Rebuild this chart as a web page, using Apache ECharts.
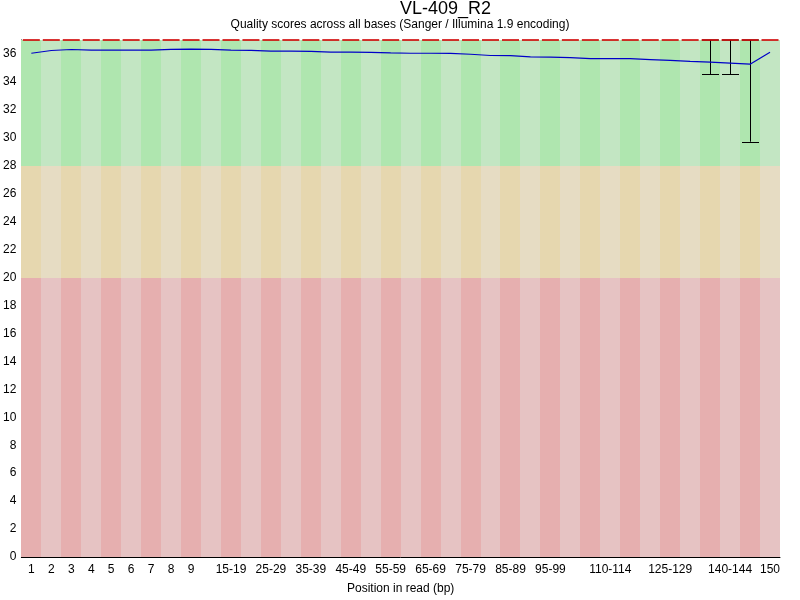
<!DOCTYPE html>
<html>
<head>
<meta charset="utf-8">
<title>VL-409_R2</title>
<script src="https://cdn.jsdelivr.net/npm/echarts@6/dist/echarts.min.js"></script>
<style>
  html, body { margin: 0; padding: 0; background: #fff; }
  #chart { width: 800px; height: 600px; }
</style>
</head>
<body>
<div id="chart"></div>
<script>
// read positions (FastQC grouping)
const categories = ['1', '2', '3', '4', '5', '6', '7', '8', '9',
    '10-14', '15-19', '20-24', '25-29', '30-34', '35-39', '40-44', '45-49',
    '50-54', '55-59', '60-64', '65-69', '70-74', '75-79', '80-84', '85-89',
    '90-94', '95-99', '100-104', '105-109', '110-114', '115-119', '120-124',
    '125-129', '130-134', '135-139', '140-144', '145-149', '150'];

// only these get a tick label
const shownLabels = ['1', '2', '3', '4', '5', '6', '7', '8', '9',
    '15-19', '25-29', '35-39', '45-49', '55-59', '65-69', '75-79', '85-89',
    '95-99', '110-114', '125-129', '140-144', '150'];

// mean quality
const meanQ = [36.05, 36.25, 36.32, 36.28, 36.27, 36.27, 36.28, 36.33, 36.34,
    36.33, 36.27, 36.26, 36.20, 36.20, 36.19, 36.13, 36.13, 36.12, 36.08,
    36.05, 36.05, 36.04, 35.98, 35.89, 35.88, 35.79, 35.78, 35.74, 35.67,
    35.67, 35.66, 35.60, 35.54, 35.47, 35.41, 35.34, 35.27, 36.12];

// median quality
const medianQ = [37, 37, 37, 37, 37, 37, 37, 37, 37, 37, 37, 37, 37, 37, 37,
    37, 37, 37, 37, 37, 37, 37, 37, 37, 37, 37, 37, 37, 37, 37, 37, 37, 37,
    37, 37, 37, 37, 37];

// 10th / 90th percentile whiskers
const lowerQ = [37, 37, 37, 37, 37, 37, 37, 37, 37, 37, 37, 37, 37, 37, 37,
    37, 37, 37, 37, 37, 37, 37, 37, 37, 37, 37, 37, 37, 37, 37, 37, 37, 37,
    37, 34.56, 34.56, 29.72, 37];
const upperQ = [37, 37, 37, 37, 37, 37, 37, 37, 37, 37, 37, 37, 37, 37, 37,
    37, 37, 37, 37, 37, 37, 37, 37, 37, 37, 37, 37, 37, 37, 37, 37, 37, 37,
    37, 37, 37, 37, 37];

// quality zones: bad < 20 <= medium < 28 <= good
const zoneBounds = [0, 20, 28, 37];
const yTicks = [0, 2, 4, 6, 8, 10, 12, 14, 16, 18, 20, 22, 24, 26, 28, 30, 32, 34, 36];

const zoneColors = [
    ['#e6afaf', '#e6c3c3'],
    ['#e6d7af', '#e6dcc3'],
    ['#afe6af', '#c3e6c3']
];

const font = 'Liberation Sans, Arial, sans-serif';
const chart = echarts.init(document.getElementById('chart'));

// one cell per category and zone
const zoneData = [];
categories.forEach((c, i) => {
    for (let z = 0; z < 3; z++) zoneData.push([i, zoneBounds[z], zoneBounds[z + 1], z]);
});

const option = {
    animation: false,
    backgroundColor: '#fff',
    title: [{
        text: 'VL-409_R2',
        left: 400,
        top: 0,
        padding: 0,
        textStyle: {fontFamily: font, fontSize: 18, fontWeight: 'normal', color: '#000'}
    }, {
        text: 'Quality scores across all bases (Sanger / Illumina 1.9 encoding)',
        left: 'center',
        top: 19,
        padding: 0,
        textStyle: {fontFamily: font, fontSize: 12, fontWeight: 'normal', color: '#000'}
    }],
    grid: {left: 20, right: 20, top: 40, bottom: 40, containLabel: false},
    xAxis: {
        type: 'category',
        data: categories,
        boundaryGap: true,
        name: 'Position in read (bp)',
        nameLocation: 'middle',
        nameGap: 26,
        nameTextStyle: {fontFamily: font, fontSize: 12, color: '#000'},
        axisLine: {show: true, lineStyle: {color: '#000', width: 1}},
        axisTick: {show: false},
        splitLine: {show: false},
        axisLabel: {
            interval: (i, v) => shownLabels.includes(v),
            margin: 7,
            fontFamily: font,
            fontSize: 12,
            color: '#000'
        }
    },
    yAxis: {
        type: 'value',
        min: zoneBounds[0],
        max: zoneBounds[3],
        interval: 2,
        axisLine: {show: true, lineStyle: {color: '#000', width: 1}},
        axisTick: {show: false},
        splitLine: {show: false},
        axisLabel: {
            showMaxLabel: false,
            margin: 5,
            padding: [7, 0, 0, 0],
            fontFamily: font,
            fontSize: 12,
            color: '#000',
            formatter: v => yTicks.includes(v) ? String(v) : ''
        }
    },
    series: [
        {
            type: 'custom',
            z: 1,
            silent: true,
            data: zoneData,
            encode: {x: 0, y: [1, 2]},
            renderItem: (params, api) => {
                const i = api.value(0);
                const w = api.size([1, 0])[0];
                const top = api.coord([i, api.value(2)]);
                const bot = api.coord([i, api.value(1)]);
                const x0 = Math.round(top[0] - w / 2);
                const x1 = Math.round(top[0] + w / 2);
                const y0 = Math.round(top[1]);
                const y1 = Math.round(bot[1]);
                return {
                    type: 'rect',
                    shape: {x: x0, y: y0, width: x1 - x0, height: y1 - y0},
                    style: {fill: zoneColors[api.value(3)][i % 2]}
                };
            }
        },
        {
            type: 'custom',
            z: 3,
            silent: true,
            data: categories.map((c, i) => [i, lowerQ[i], upperQ[i]]),
            encode: {x: 0, y: [1, 2]},
            renderItem: (params, api) => {
                const lo = api.value(1), hi = api.value(2);
                if (lo >= hi) return null;
                const top = api.coord([api.value(0), hi]);
                const bot = api.coord([api.value(0), lo]);
                const half = 8.5;
                const st = {stroke: '#000', lineWidth: 1};
                const x = Math.round(top[0]) + 0.5;
                return {
                    type: 'group',
                    children: [
                        {type: 'line', shape: {x1: x, y1: top[1], x2: x, y2: bot[1]}, style: st},
                        {type: 'line', shape: {x1: x - half, y1: top[1], x2: x + half, y2: top[1]}, style: st},
                        {type: 'line', shape: {x1: x - half, y1: Math.round(bot[1]) + 0.5, x2: x + half, y2: Math.round(bot[1]) + 0.5}, style: st}
                    ]
                };
            }
        },
        {
            type: 'scatter',
            z: 4,
            silent: true,
            symbol: 'rect',
            symbolSize: [17, 2],
            itemStyle: {color: '#d00000'},
            data: medianQ
        },
        {
            type: 'line',
            z: 5,
            silent: true,
            symbol: 'none',
            lineStyle: {color: '#0000c8', width: 1.2},
            data: meanQ
        }
    ]
};

chart.setOption(option);
</script>
</body>
</html>
